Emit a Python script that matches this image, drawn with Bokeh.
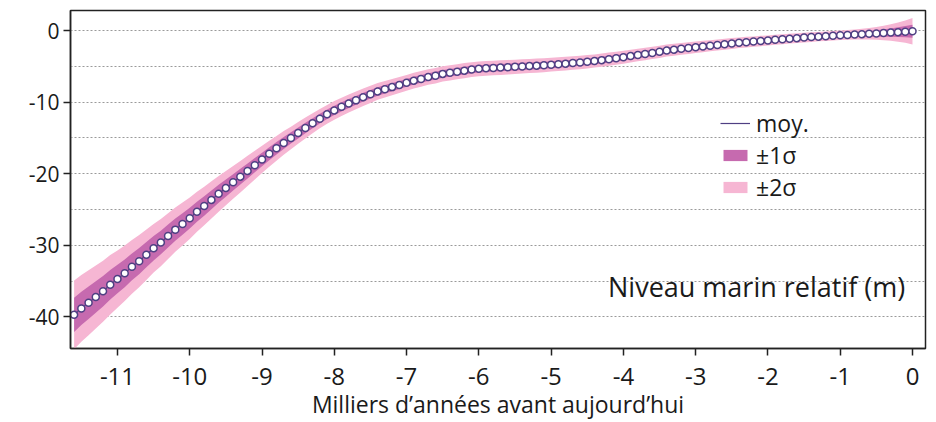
from bokeh.plotting import figure
from bokeh.models import Range1d, FixedTicker, Legend, LegendItem, Label
from bokeh.embed import file_html
from bokeh.resources import INLINE

# Age (thousands of years before present)
age_ka = [-11.6, -11.5, -11.4, -11.3, -11.2, -11.1, -11.0, -10.9, -10.8, -10.7,
          -10.6, -10.5, -10.4, -10.3, -10.2, -10.1, -10.0, -9.9, -9.8, -9.7,
          -9.6, -9.5, -9.4, -9.3, -9.2, -9.1, -9.0, -8.9, -8.8, -8.7,
          -8.6, -8.5, -8.4, -8.3, -8.2, -8.1, -8.0, -7.9, -7.8, -7.7,
          -7.6, -7.5, -7.4, -7.3, -7.2, -7.1, -7.0,
          -6.9, -6.8, -6.7, -6.6, -6.5, -6.4, -6.3, -6.2, -6.1, -6.0,
          -5.9, -5.8, -5.7, -5.6, -5.5, -5.4, -5.3, -5.2, -5.1, -5.0,
          -4.9, -4.8, -4.7, -4.6, -4.5, -4.4, -4.3, -4.2, -4.1, -4.0,
          -3.9, -3.8, -3.7, -3.6, -3.5, -3.4, -3.3, -3.2, -3.1, -3.0,
          -2.9, -2.8, -2.7, -2.6, -2.5, -2.4, -2.3, -2.2, -2.1, -2.0,
          -1.9, -1.8, -1.7, -1.6, -1.5, -1.4, -1.3, -1.2, -1.1, -1.0,
          -0.9, -0.8, -0.7, -0.6, -0.5, -0.4, -0.3, -0.2, -0.1, 0.0]

# Mean relative sea level (m)
mean_m = [-39.7, -38.8, -38.0, -37.2, -36.4, -35.5, -34.7, -33.9, -33.0, -32.2,
          -31.3, -30.4, -29.6, -28.7, -27.8, -27.0, -26.2, -25.3, -24.5, -23.65,
          -22.8, -22.0, -21.2, -20.4, -19.6, -18.8, -18.0, -17.2, -16.45, -15.7,
          -15.0, -14.3, -13.6, -12.95, -12.3, -11.7, -11.15, -10.65, -10.2, -9.75,
          -9.3, -8.9, -8.5, -8.2, -7.9, -7.6, -7.3,
          -7.0, -6.75, -6.5, -6.3, -6.05, -5.9, -5.75, -5.6, -5.45, -5.35,
          -5.28, -5.22, -5.17, -5.12, -5.07, -5.01, -4.96, -4.9, -4.84, -4.77,
          -4.7, -4.62, -4.54, -4.46, -4.36, -4.25, -4.13, -4.0, -3.87, -3.72,
          -3.57, -3.42, -3.27, -3.12, -2.97, -2.8, -2.67, -2.55, -2.44, -2.33,
          -2.22, -2.12, -2.02, -1.92, -1.8, -1.7, -1.62, -1.54, -1.46, -1.38,
          -1.3, -1.22, -1.14, -1.06, -0.98, -0.91, -0.85, -0.79, -0.73, -0.67,
          -0.61, -0.56, -0.5, -0.45, -0.4, -0.34, -0.28, -0.22, -0.16, -0.1]

# One standard deviation (m)
sigma_m = [2.40, 2.33, 2.27, 2.20, 2.13, 2.07, 2.00, 1.94, 1.88, 1.82,
           1.76, 1.70, 1.65, 1.60, 1.55, 1.50, 1.45, 1.40, 1.35, 1.30,
           1.25, 1.20, 1.15, 1.10, 1.05, 1.00, 0.95, 0.91, 0.87, 0.83,
           0.79, 0.76, 0.73, 0.70, 0.68, 0.66, 0.65, 0.64, 0.63, 0.62,
           0.61, 0.60, 0.59, 0.58, 0.57, 0.56, 0.55,
           0.55, 0.55, 0.54, 0.54, 0.54, 0.53, 0.53, 0.53, 0.52, 0.52,
           0.52, 0.51, 0.51, 0.51, 0.50, 0.50, 0.49, 0.49, 0.49, 0.48,
           0.48, 0.48, 0.47, 0.47, 0.47, 0.46, 0.46, 0.46, 0.45, 0.45,
           0.45, 0.44, 0.44, 0.43, 0.43, 0.42, 0.42, 0.41, 0.41, 0.40,
           0.40, 0.39, 0.39, 0.38, 0.38, 0.37, 0.37, 0.36, 0.36, 0.35,
           0.35, 0.35, 0.34, 0.34, 0.34, 0.34, 0.33, 0.33, 0.33, 0.33,
           0.34, 0.35, 0.37, 0.40, 0.45, 0.51, 0.58, 0.67, 0.78, 0.92]

x_ticks = [-11, -10, -9, -8, -7, -6, -5, -4, -3, -2, -1, 0]
x_tick_labels = ["-11", "-10", "-9", "-8", "-7", "-6", "-5", "-4", "-3", "-2", "-1", "0"]
y_ticks = [0, -10, -20, -30, -40]
y_tick_labels = ["0", "-10", "-20", "-30", "-40"]
grid_levels = [0, -5, -10, -15, -20, -25, -30, -35, -40]

FONT = "Open Sans"
C2 = "#f6b6d3"
C1 = "#c66aaf"
CLINE = "#4f3f83"

lo2 = [m - 2 * s for m, s in zip(mean_m, sigma_m)]
hi2 = [m + 2 * s for m, s in zip(mean_m, sigma_m)]
lo1 = [m - s for m, s in zip(mean_m, sigma_m)]
hi1 = [m + s for m, s in zip(mean_m, sigma_m)]

p = figure(width=930, height=422, x_range=Range1d(-11.65, 0.18),
           y_range=Range1d(-44.4, 2.8), output_backend="svg",
           toolbar_location=None, min_border_left=70, min_border_right=5,
           min_border_top=10, min_border_bottom=72)
p.background_fill_color = "white"
p.border_fill_color = "white"
p.outline_line_color = "#222222"
p.outline_line_width = 1.5

r2 = p.varea(x=age_ka, y1=lo2, y2=hi2, fill_color=C2)
r1 = p.varea(x=age_ka, y1=lo1, y2=hi1, fill_color=C1)
rl = p.line(x=age_ka, y=mean_m, line_color=CLINE, line_width=1.2)
p.scatter(x=age_ka, y=mean_m, size=7, fill_color="white", line_color=CLINE,
          line_width=1.5)

p.xgrid.visible = False
p.ygrid.ticker = FixedTicker(ticks=grid_levels)
p.ygrid.grid_line_color = "#9a9a9a"
p.ygrid.grid_line_dash = "2 2"
p.ygrid.grid_line_width = 1
p.ygrid.level = "underlay"

for ax in (p.xaxis, p.yaxis):
    ax.axis_line_color = "#222222"
    ax.axis_line_width = 1.5
    ax.major_tick_line_color = "#222222"
    ax.major_tick_line_width = 1.5
    ax.major_tick_out = 7
    ax.major_tick_in = 0
    ax.minor_tick_line_color = None
    ax.major_label_text_font = FONT
    ax.major_label_text_color = "#1a1a1a"

p.xaxis.ticker = FixedTicker(ticks=x_ticks)
p.yaxis.ticker = FixedTicker(ticks=y_ticks)
p.xaxis.major_label_overrides = dict(zip(x_ticks, x_tick_labels))
p.yaxis.major_label_overrides = dict(zip(y_ticks, y_tick_labels))
p.xaxis.major_label_text_font_size = "24px"
p.yaxis.major_label_text_font_size = "21px"
p.xaxis.major_label_standoff = 12
p.yaxis.major_label_standoff = 4
p.xaxis.axis_label = "Milliers d\u2019ann\u00e9es avant aujourd\u2019hui"
p.xaxis.axis_label_text_font = FONT
p.xaxis.axis_label_text_font_size = "23px"
p.xaxis.axis_label_text_font_style = "normal"
p.xaxis.axis_label_text_color = "#1a1a1a"
p.xaxis.axis_label_standoff = 0

legend = Legend(items=[LegendItem(label="moy.", renderers=[rl]),
                       LegendItem(label="\u00b11\u03c3", renderers=[r1]),
                       LegendItem(label="\u00b12\u03c3", renderers=[r2])],
                location=(650, 145))
legend.background_fill_alpha = 0
legend.border_line_alpha = 0
legend.padding = 0
legend.margin = 0
legend.spacing = 0
legend.glyph_width = 30
legend.glyph_height = 14
legend.label_height = 28
legend.label_standoff = 6
legend.label_text_font = FONT
legend.label_text_font_size = "23px"
legend.label_text_color = "#1a1a1a"
p.add_layout(legend)

p.add_layout(Label(x=-0.1, y=-35.7, text="Niveau marin relatif (m)",
                   text_font=FONT, text_font_size="27px", text_align="right",
                   text_baseline="middle", text_color="#1a1a1a"))

open("out.html", "w").write(file_html(p, INLINE))
